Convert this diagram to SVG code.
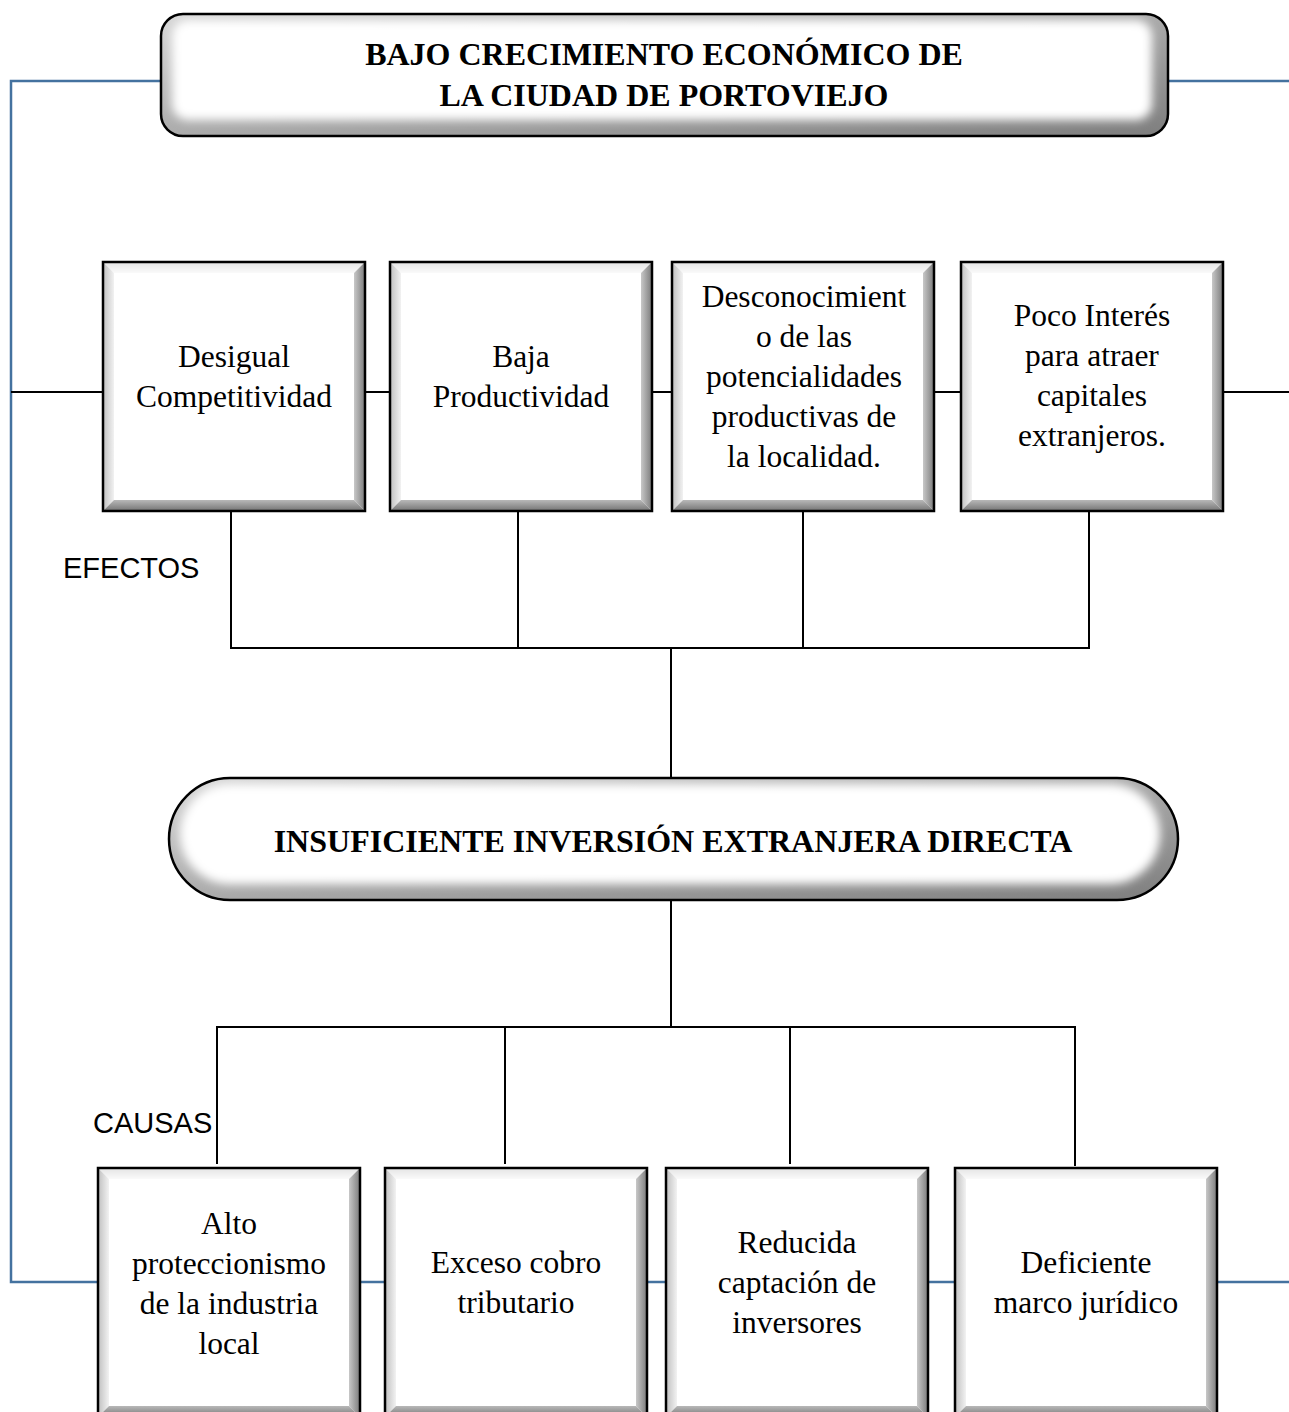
<svg xmlns="http://www.w3.org/2000/svg" xmlns:xlink="http://www.w3.org/1999/xlink" width="1289" height="1412" viewBox="0 0 1289 1412">
<style>
  .t { font-family: "Liberation Serif", "Times New Roman", serif; font-size: 31.5px; fill: #000; text-anchor: middle; }
  .tb { font-family: "Liberation Serif", "Times New Roman", serif; font-size: 32px; font-weight: bold; fill: #000; text-anchor: middle; }
  .lab { font-family: "Liberation Sans", Arial, sans-serif; font-size: 29px; fill: #000; }
  .blk { stroke: #000; stroke-width: 2; fill: none; }
  .blu { stroke: #44729f; stroke-width: 2.5; fill: none; }
  .edge { fill: none; stroke: #000; stroke-width: 2.5; }
</style>
<defs>
  <linearGradient id="gTop" x1="0" y1="0" x2="0" y2="1"><stop offset="0" stop-color="#e6e6e6"/><stop offset="1" stop-color="#fafafa"/></linearGradient>
  <linearGradient id="gLeft" x1="0" y1="0" x2="1" y2="0"><stop offset="0" stop-color="#c4c4c4"/><stop offset="1" stop-color="#f2f2f2"/></linearGradient>
  <linearGradient id="gRight" x1="0" y1="0" x2="1" y2="0"><stop offset="0" stop-color="#c8c8c8"/><stop offset="1" stop-color="#828282"/></linearGradient>
  <linearGradient id="gBot" x1="0" y1="0" x2="0" y2="1"><stop offset="0" stop-color="#b8b8b8"/><stop offset="1" stop-color="#7a7a7a"/></linearGradient>
  <linearGradient id="gRound" x1="0" y1="0" x2="1" y2="1"><stop offset="0" stop-color="#d8d8d8"/><stop offset="1" stop-color="#7e7e7e"/></linearGradient>
  <filter id="soft" x="-10%" y="-30%" width="120%" height="160%"><feGaussianBlur stdDeviation="5"/></filter>
  <g id="bevel">
    <rect x="0" y="0" width="262" height="249" fill="#fff"/>
    <polygon points="1,1 261,1 251,11 11,11" fill="url(#gTop)"/>
    <polygon points="1,1 11,11 11,238 1,248" fill="url(#gLeft)"/>
    <polygon points="261,1 261,248 251,238 251,11" fill="url(#gRight)"/>
    <polygon points="1,248 261,248 251,238 11,238" fill="url(#gBot)"/>
    <rect x="0" y="0" width="262" height="249" class="edge"/>
  </g>
  <clipPath id="cTitle"><rect x="161" y="14" width="1007" height="122" rx="22"/></clipPath>
  <clipPath id="cPill"><rect x="169" y="778" width="1009" height="122" rx="61"/></clipPath>
</defs>

<g id="connectors">
  <polyline class="blu" points="161,81 11,81 11,1282 98,1282"/>
  <line class="blu" x1="1168" y1="81" x2="1289" y2="81"/>
  <line class="blu" x1="359" y1="1282" x2="385" y2="1282"/>
  <line class="blu" x1="646" y1="1282" x2="666" y2="1282"/>
  <line class="blu" x1="929" y1="1282" x2="955" y2="1282"/>
  <line class="blu" x1="1217" y1="1282" x2="1289" y2="1282"/>
  <line class="blk" x1="11" y1="392" x2="103" y2="392"/>
  <line class="blk" x1="365" y1="392" x2="390" y2="392"/>
  <line class="blk" x1="652" y1="392" x2="672" y2="392"/>
  <line class="blk" x1="935" y1="392" x2="961" y2="392"/>
  <line class="blk" x1="1223" y1="392" x2="1289" y2="392"/>
  <line class="blk" x1="231" y1="511" x2="231" y2="648"/>
  <line class="blk" x1="518" y1="511" x2="518" y2="648"/>
  <line class="blk" x1="803" y1="511" x2="803" y2="648"/>
  <line class="blk" x1="1089" y1="511" x2="1089" y2="648"/>
  <line class="blk" x1="230" y1="648" x2="1090" y2="648"/>
  <line class="blk" x1="671" y1="648" x2="671" y2="778"/>
  <line class="blk" x1="671" y1="900" x2="671" y2="1027"/>
  <line class="blk" x1="216" y1="1027" x2="1076" y2="1027"/>
  <line class="blk" x1="217" y1="1027" x2="217" y2="1164"/>
  <line class="blk" x1="505" y1="1027" x2="505" y2="1164"/>
  <line class="blk" x1="790" y1="1027" x2="790" y2="1164"/>
  <line class="blk" x1="1075" y1="1027" x2="1075" y2="1166"/>
</g>

<g id="title">
  <g clip-path="url(#cTitle)">
    <rect x="161" y="14" width="1007" height="122" fill="url(#gRound)"/>
    <rect x="172" y="20" width="980" height="100" rx="16" fill="#fff" filter="url(#soft)"/>
  </g>
  <rect x="161" y="14" width="1007" height="122" rx="22" class="edge"/>
  <text class="tb" x="664" y="65">BAJO CRECIMIENTO ECONÓMICO DE</text>
  <text class="tb" x="664" y="106">LA CIUDAD DE PORTOVIEJO</text>
</g>

<g id="efecto1"><use xlink:href="#bevel" x="103" y="262"/>
  <text class="t" x="234" y="367">Desigual</text><text class="t" x="234" y="407">Competitividad</text></g>
<g id="efecto2"><use xlink:href="#bevel" x="390" y="262"/>
  <text class="t" x="521" y="367">Baja</text><text class="t" x="521" y="407">Productividad</text></g>
<g id="efecto3"><use xlink:href="#bevel" x="672" y="262"/>
  <text class="t" x="804" y="307">Desconocimient</text><text class="t" x="804" y="347">o de las</text><text class="t" x="804" y="387">potencialidades</text><text class="t" x="804" y="427">productivas de</text><text class="t" x="804" y="467">la localidad.</text></g>
<g id="efecto4"><use xlink:href="#bevel" x="961" y="262"/>
  <text class="t" x="1092" y="326">Poco Interés</text><text class="t" x="1092" y="366">para atraer</text><text class="t" x="1092" y="406">capitales</text><text class="t" x="1092" y="446">extranjeros.</text></g>

<text class="lab" x="63" y="578">EFECTOS</text>

<g id="problema">
  <g clip-path="url(#cPill)">
    <rect x="169" y="778" width="1009" height="122" fill="url(#gRound)"/>
    <rect x="180" y="784" width="980" height="100" rx="50" fill="#fff" filter="url(#soft)"/>
  </g>
  <rect x="169" y="778" width="1009" height="122" rx="61" class="edge"/>
  <text class="tb" x="673" y="852">INSUFICIENTE INVERSIÓN EXTRANJERA DIRECTA</text>
</g>

<text class="lab" x="93" y="1133">CAUSAS</text>

<g id="causa1"><use xlink:href="#bevel" x="98" y="1168"/>
  <text class="t" x="229" y="1234">Alto</text><text class="t" x="229" y="1274">proteccionismo</text><text class="t" x="229" y="1314">de la industria</text><text class="t" x="229" y="1354">local</text></g>
<g id="causa2"><use xlink:href="#bevel" x="385" y="1168"/>
  <text class="t" x="516" y="1273">Exceso cobro</text><text class="t" x="516" y="1313">tributario</text></g>
<g id="causa3"><use xlink:href="#bevel" x="666" y="1168"/>
  <text class="t" x="797" y="1253">Reducida</text><text class="t" x="797" y="1293">captación de</text><text class="t" x="797" y="1333">inversores</text></g>
<g id="causa4"><use xlink:href="#bevel" x="955" y="1168"/>
  <text class="t" x="1086" y="1273">Deficiente</text><text class="t" x="1086" y="1313">marco jurídico</text></g>
</svg>
